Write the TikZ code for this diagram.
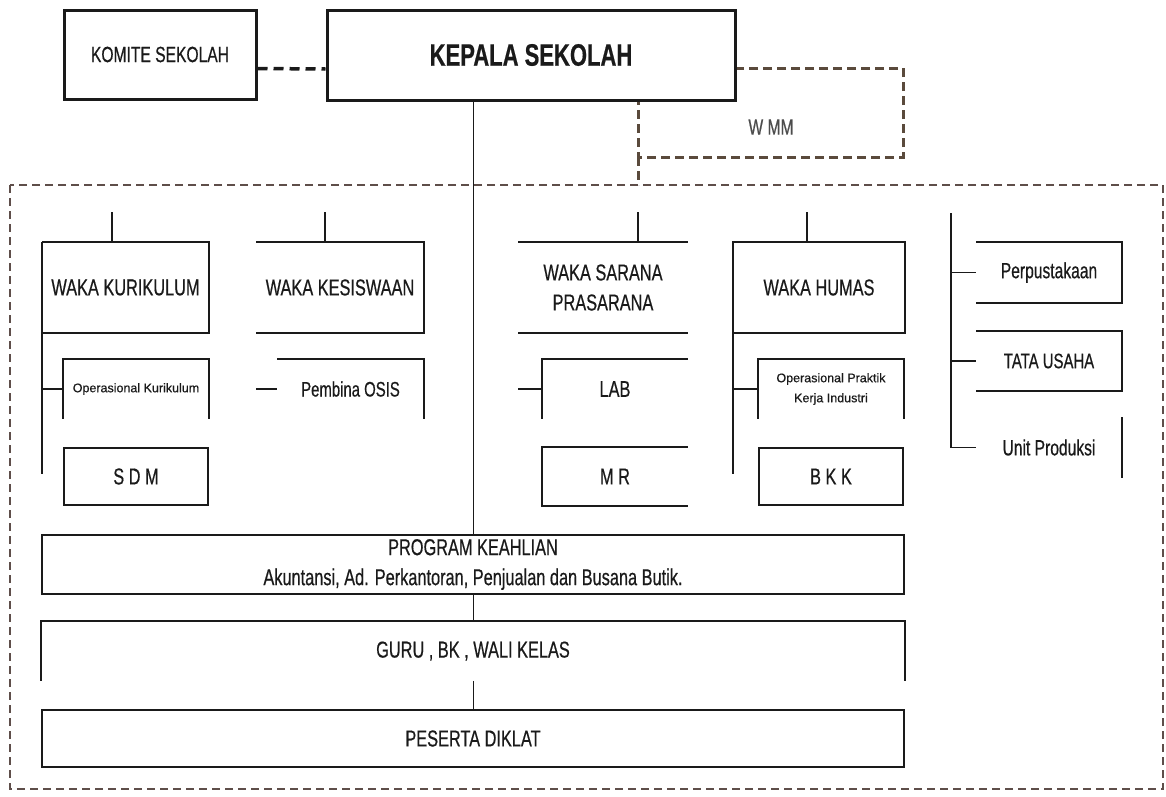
\documentclass[tikz,border=0pt]{standalone}
\usepackage{fontspec}
\setmainfont{Liberation Sans}[FakeStretch=0.71,FakeBold=0.5]
\newfontfamily\smallsf{Liberation Sans}[FakeBold=0.5]
\definecolor{ink}{HTML}{1A1A1A}
\definecolor{wmmc}{HTML}{5A4A3C}
\definecolor{framec}{HTML}{5E4E4A}
\begin{document}
\begin{tikzpicture}[x=1pt,y=-1pt,line width=1.6pt,color=ink,
  wh/.style 2 args={minimum width=#1pt,minimum height=#2pt,inner sep=0pt,align=center,text=ink},
  txt/.style={font=\fontsize{23}{30}\selectfont},
  small/.style={font=\smallsf\fontsize{12.5}{20}\selectfont},
  thinline/.style={line width=1pt},
  headbox/.style={draw,line width=3pt},
  topdash/.style={line width=3.5pt,dash pattern=on 10pt off 6pt},
  wmmline/.style={draw=wmmc,line width=3pt,dash pattern=on 9pt off 5pt},
  frameline/.style={draw=framec,line width=1.5pt,dash pattern=on 8pt off 5pt}]
\useasboundingbox (0,0) rectangle (1166,796);
\fill[white] (0,0) rectangle (1166,796);
\coordinate (fnw) at (10,185);
\coordinate (fse) at (1163,789);
\draw[frameline] (fnw) rectangle (fse);
\coordinate (wnw) at (638,68);
\coordinate (wse) at (903,157);
\draw[wmmline] (wnw) rectangle (wse);
\draw[wmmline] (wnw |- wse) -- (wnw |- fnw);
\node[font=\fontsize{22}{26}\selectfont,text=black!70] (wmm) at (771,127) {W MM};
\node[wh={408}{90},headbox,fill=white,font=\bfseries\fontsize{31}{36}\selectfont] (kepala) at (531,55) {KEPALA SEKOLAH};
\node[wh={192}{89},headbox,font=\fontsize{22}{26}\selectfont] (komite) at (160,54.5) {KOMITE SEKOLAH};
\draw[topdash] ([yshift=-14pt]komite.east) -- ([yshift=-14pt]kepala.west);
\node[wh={165}{89},txt] (kur) at (125.5,287.5) {WAKA KURIKULUM};
\draw (kur.north west) -- (kur.north east) -- (kur.south east) -- (kur.south west);
\draw (kur.north west) -- ++(0,232);
\draw (kur.north west) ++(70,0) -- ++(0,-30);
\node[wh={144}{58},small] (opk) at (136,389) {Operasional Kurikulum};
\draw (opk.south west) -- (opk.north west) -- (opk.north east) -- (opk.south east);
\draw (opk.west -| kur.west) -- (opk.west);
\node[wh={144}{57},txt,draw] (sdm) at (136,476.5) {S D M};
\node[wh={166}{89},txt] (kes) at (340,287.5) {WAKA KESISWAAN};
\draw (kes.north west) -- (kes.north east) -- (kes.south east) -- (kes.south west);
\draw (kes.north west) ++(69,0) -- ++(0,-30);
\node[wh={145}{58},font=\fontsize{21}{25}\selectfont] (osis) at (350.5,389) {Pembina OSIS};
\draw (osis.north west) -- (osis.north east) -- (osis.south east);
\draw (osis.west -| kes.west) -- (osis.west);
\node[wh={168}{89},txt] (sar) at (603,287.5) {WAKA SARANA\\PRASARANA};
\draw (sar.north west) -- (sar.north east);
\draw (sar.south west) -- (sar.south east);
\draw (sar.north west) ++(120,0) -- ++(0,-30);
\node[wh={144}{58},txt] (lab) at (615,389) {LAB};
\draw (lab.south west) -- (lab.north west) -- (lab.north east);
\draw (lab.west -| sar.west) -- (lab.west);
\node[wh={144}{57},txt] (mr) at (615,476.5) {M R};
\draw (mr.north east) -- (mr.north west) -- (mr.south west) -- (mr.south east);
\node[wh={170}{89},txt] (hum) at (819,287.5) {WAKA HUMAS};
\draw (hum.south west) -- (hum.south east) -- (hum.north east) -- (hum.north west) -- ++(0,232);
\draw (hum.north west) ++(74,0) -- ++(0,-30);
\node[wh={144}{58},small] (opi) at (831,389) {Operasional Praktik\\Kerja Industri};
\draw (opi.south west) -- (opi.north west) -- (opi.north east) -- (opi.south east);
\draw (opi.west -| hum.west) -- (opi.west);
\node[wh={144}{57},txt,draw] (bkk) at (831,476.5) {B K K};
\coordinate (rtop) at (951,213);
\node[wh={144}{59},font=\fontsize{22}{26}\selectfont] (pus) at (1049,272.5) {Perpustakaan};
\node[wh={144}{58},font=\fontsize{21}{25}\selectfont] (tu) at (1049,361) {TATA USAHA};
\node[wh={144}{59},font=\fontsize{22}{26}\selectfont] (unit) at (1049,447.5) {Unit Produksi};
\foreach \n in {pus,tu} \draw (\n.north west) -- (\n.north east) -- (\n.south east) -- (\n.south west);
\draw (unit.north east) -- (unit.south east);
\draw (rtop) -- (rtop |- unit.west);
\foreach \n in {pus,tu,unit} \draw (rtop |- \n.west) -- (\n.west);
\node[wh={862}{59},txt,draw] (prog) at (473,564.5) {PROGRAM KEAHLIAN\\Akuntansi, Ad. Perkantoran, Penjualan dan Busana Butik.};
\node[wh={862}{58},txt] (guru) at (473,651) {GURU , BK , WALI KELAS};
\draw (guru.south west) -- (guru.north west) -- (guru.north east) -- (guru.south east);
\node[wh={862}{57},txt,draw] (pes) at (473,738.5) {PESERTA DIKLAT};
\draw[thinline] (kepala.south -| prog.north) -- (prog.north);
\draw[thinline] (prog.south) -- (guru.north);
\draw[thinline] (guru.south) -- (pes.north);
\end{tikzpicture}
\end{document}
